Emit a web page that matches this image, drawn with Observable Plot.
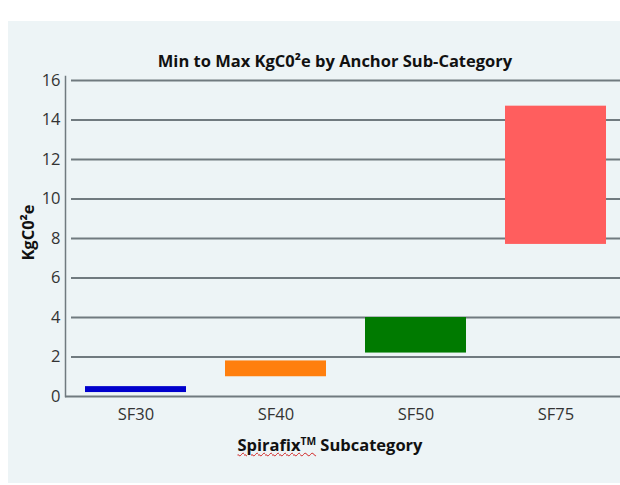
<!DOCTYPE html>
<html>
<head>
<meta charset="utf-8">
<script src="https://cdn.jsdelivr.net/npm/d3@7"></script>
<script src="https://cdn.jsdelivr.net/npm/@observablehq/plot@0.6"></script>
<style>
  html, body { margin: 0; padding: 0; background: #ffffff; overflow: hidden; width: 620px; height: 485px; }
  body { font-family: "Open Sans", sans-serif; position: relative; }
  #panel { position: absolute; left: 8px; top: 21px; width: 612px; height: 462px; background: #edf4f6; }
  #title { position: absolute; left: 0; top: 51px; width: 670px; text-align: center; font-weight: bold; font-size: 16.5px; line-height: 20px; color: #111; }
  #chart { position: absolute; left: 0; top: 70px; }
  #xlabel { position: absolute; left: 0; top: 435px; width: 660px; text-align: center; font-weight: bold; font-size: 16.5px; line-height: 20px; color: #111; }
  #xlabel sup { font-size: 0.62em; vertical-align: 0.55em; line-height: 0; }
  .squiggle { text-decoration: underline wavy #d02020; text-decoration-thickness: 1px; text-underline-offset: 1px; }
</style>
</head>
<body>
<div id="panel"></div>
<div id="title">Min to Max KgC0²e by Anchor Sub-Category</div>
<div id="chart"></div>
<div id="xlabel"><span class="squiggle">Spirafix<sup>TM</sup></span> Subcategory</div>
<script>
const categories = ["SF30", "SF40", "SF50", "SF75"];
const minValues = [0.2, 1.0, 2.2, 7.7];
const maxValues = [0.5, 1.8, 4.0, 14.7];
const yTicks = [0, 2, 4, 6, 8, 10, 12, 14, 16];
const yLabel = "KgC0²e";
const barColors = ["#0000cc", "#ff7f0e", "#007a00", "#ff5e5e"];

const data = categories.map((c, i) => ({cat: c, lo: minValues[i], hi: maxValues[i]}));
const gridColor = "#707a7f";

const plot = Plot.plot({
  width: 620,
  height: 360,
  marginTop: 10,
  marginBottom: 34,
  marginLeft: 65,
  marginRight: 0,
  style: {background: "transparent", fontFamily: "Open Sans, sans-serif", overflow: "visible"},
  x: {domain: categories, range: [65, 625], paddingInner: 0.28, paddingOuter: 0.14, label: null},
  y: {domain: [0, 16], label: null},
  color: {domain: categories, range: barColors},
  marks: [
    Plot.ruleY(yTicks.filter(t => t > 0), {stroke: gridColor, strokeWidth: 1.8, insetLeft: 6}),
    Plot.ruleY([0], {stroke: gridColor, strokeWidth: 1.8}),
    Plot.frame({anchor: "left", stroke: gridColor, strokeWidth: 1.5, insetTop: -4}),
    Plot.barY(data, {x: "cat", y1: "lo", y2: "hi", fill: "cat"}),
    Plot.axisY({ticks: yTicks, tickSize: 0, tickPadding: 5, fontSize: 16.5, label: null, fill: "#333"}),
    Plot.axisX({tickSize: 0, tickPadding: 12, fontSize: 16.5, label: null, fill: "#333"}),
    Plot.text([yLabel], {frameAnchor: "left", textAnchor: "middle", rotate: -90, dx: -37, dy: -6, fontWeight: "bold", fontSize: 16.5, fill: "#111"})
  ]
});
document.getElementById("chart").appendChild(plot);
</script>
</body>
</html>
